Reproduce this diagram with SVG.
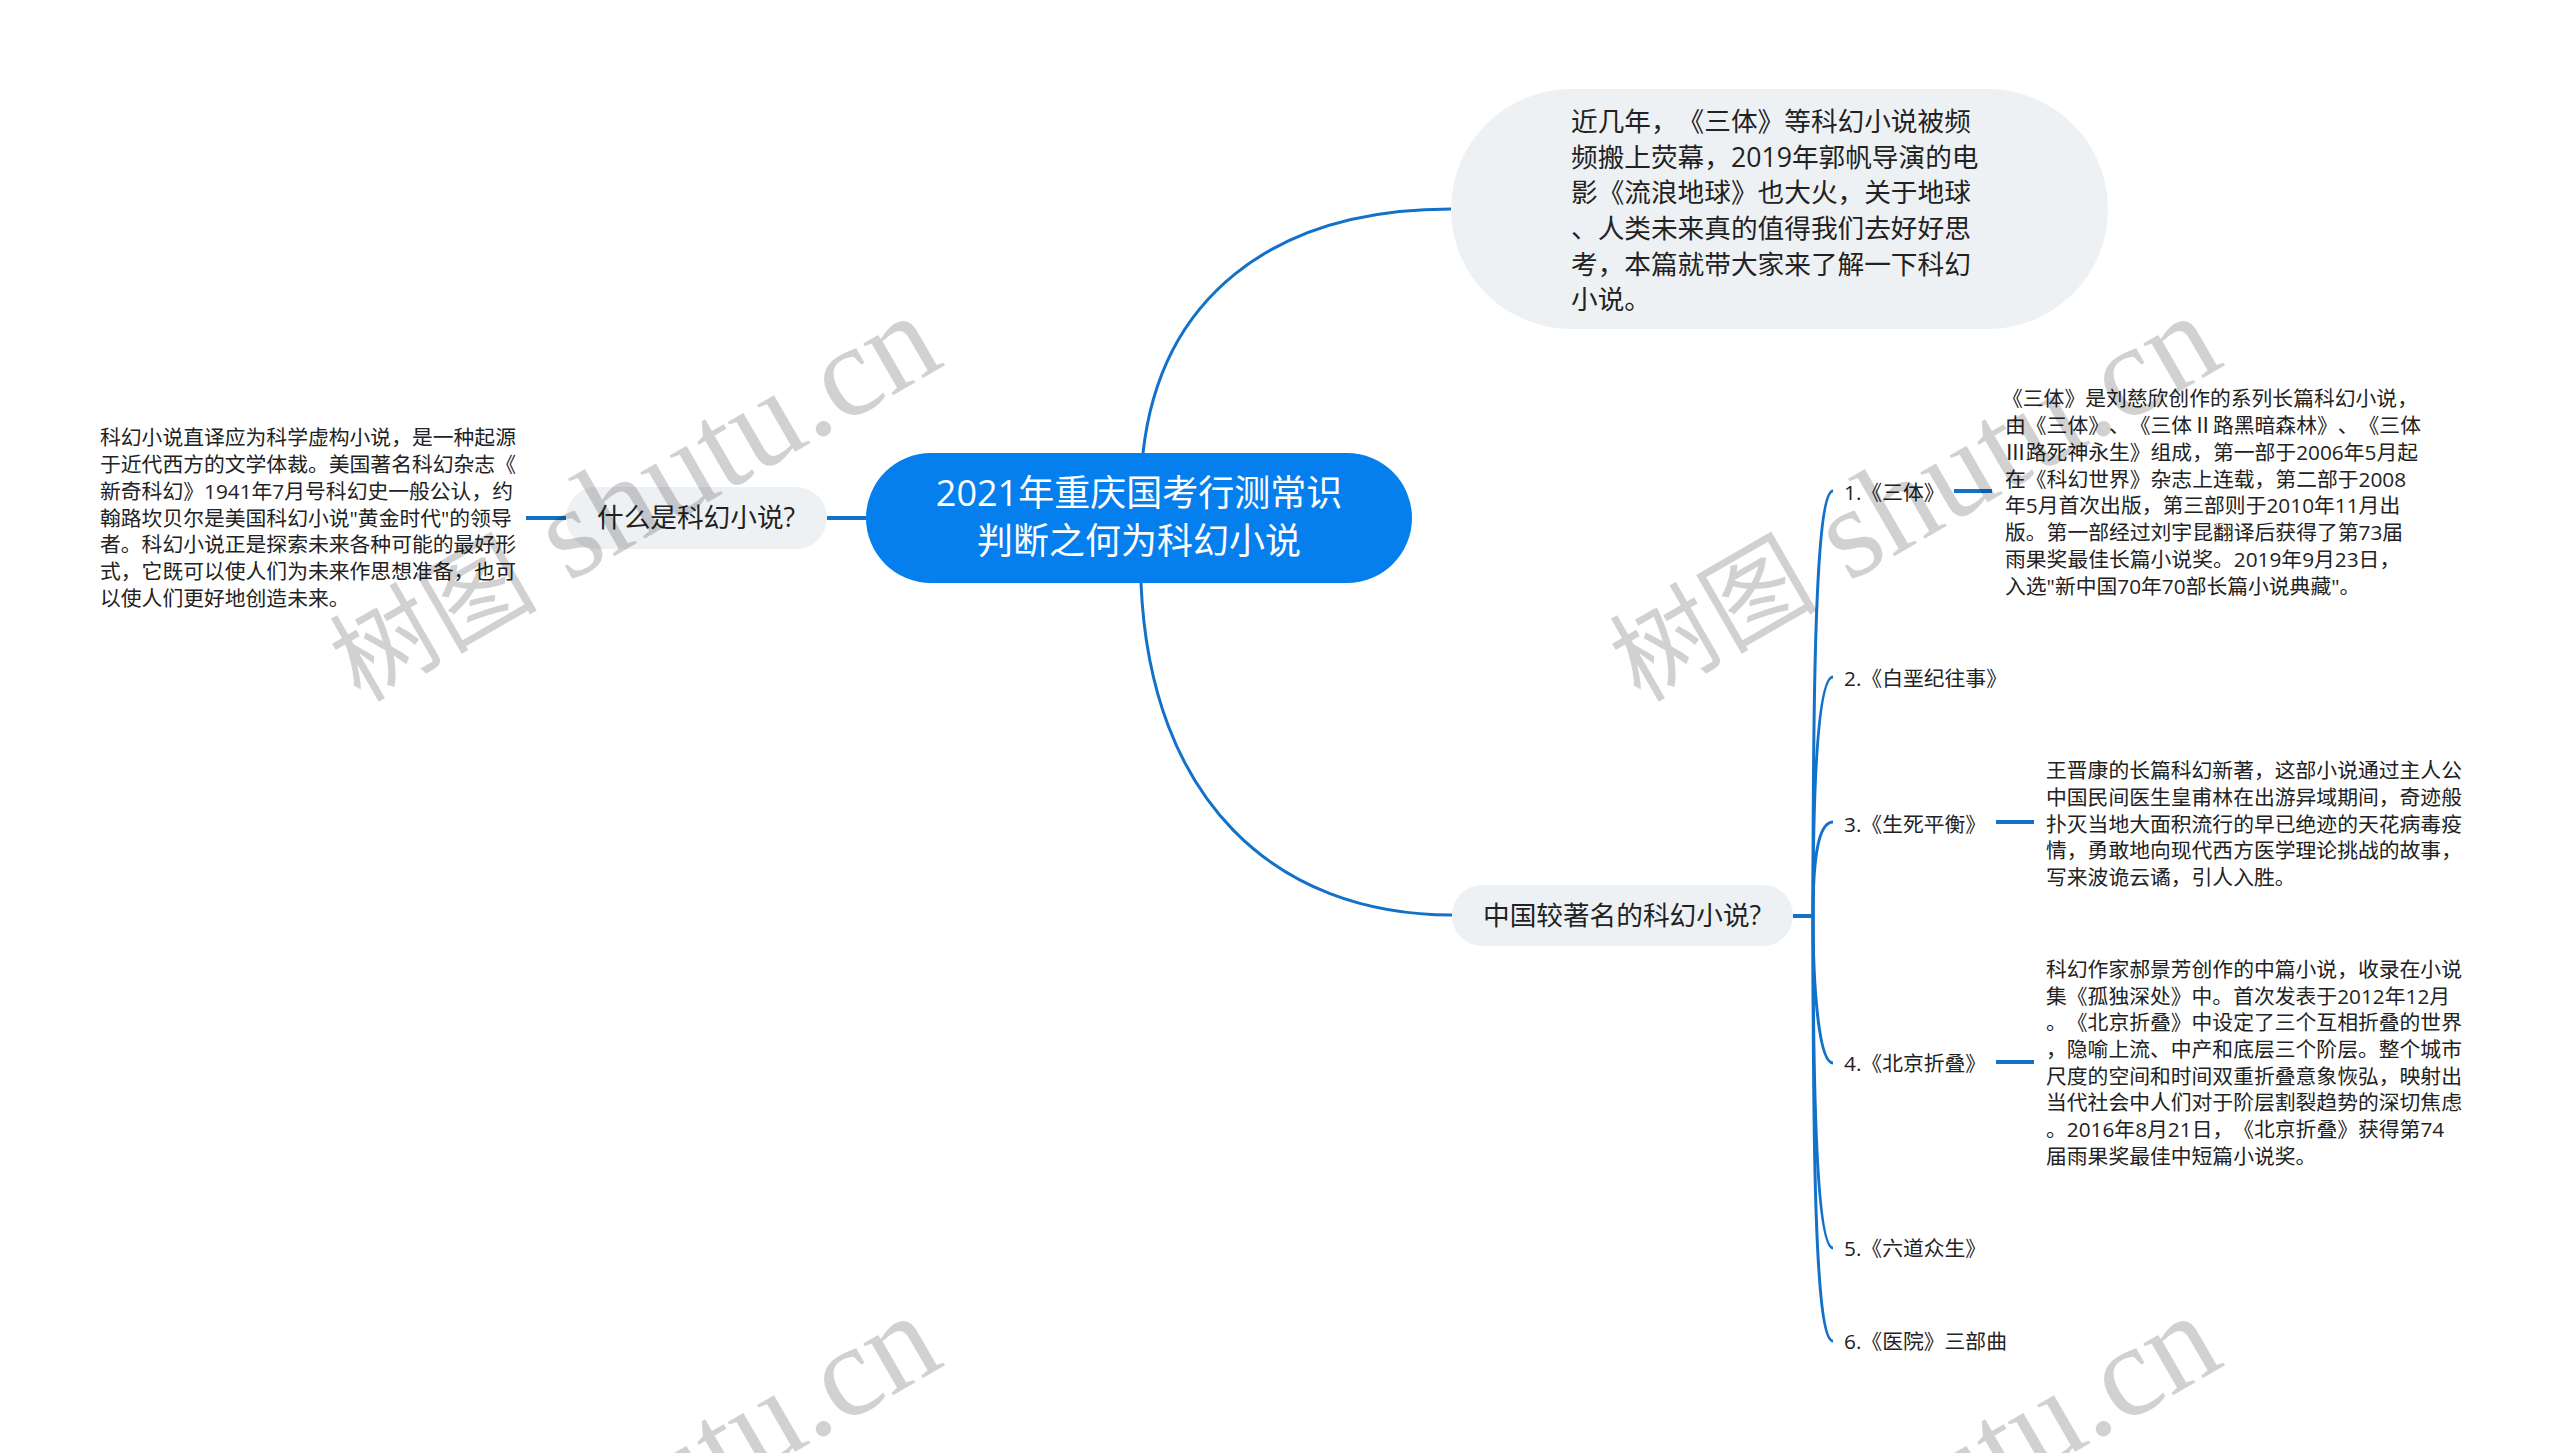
<svg xmlns="http://www.w3.org/2000/svg" width="2560" height="1453" viewBox="0 0 2560 1453">
<style>
text{font-family:"Open Sans","Noto Sans CJK SC",sans-serif;fill:#222;text-spacing-trim:space-all}
.t27{font-size:26.67px}
.t21{font-size:20.8px}
.title{font-size:36px;fill:#fff;text-anchor:middle}
.pill{fill:#eef1f4}
.link{fill:none;stroke:#1271c8;stroke-width:3}
.dash{fill:none;stroke:#1271c8;stroke-width:4}
.wm{font-family:"Liberation Serif","Noto Sans CJK SC",serif;font-size:130px;fill:#000;opacity:.175}
.wmc{font-size:104px}
</style>
<defs>
<text id="mark" class="wm" transform="translate(360 703) rotate(-30)"><tspan class="wmc">树图</tspan> shutu.cn</text>
</defs>
<rect width="2560" height="1453" fill="#fff"/>
<g id="connectors">
<path class="link" d="M1143 453C1160 300 1270 209 1451 209"/>
<path class="link" d="M1141 583C1150 800 1275 915 1452 915"/>
<path class="dash" d="M827 518H866"/>
<path class="dash" d="M526 518H566"/>
<path class="dash" d="M1793 916H1813"/>
<path class="link" d="M1813 916C1813 700 1815 491 1833 491"/>
<path class="link" d="M1813 916C1813 780 1818 677 1833 677"/>
<path class="link" d="M1813 916C1813 860 1818 822 1833 822"/>
<path class="link" d="M1813 916C1813 980 1818 1063 1833 1063"/>
<path class="link" d="M1813 916C1813 1080 1816 1248 1833 1248"/>
<path class="link" d="M1813 916C1813 1150 1815 1341 1833 1341"/>
<path class="dash" d="M1954 491H1992"/>
<path class="dash" d="M1996 822H2034"/>
<path class="dash" d="M1996 1062H2034"/>
</g>
<g id="root">
<rect x="866" y="453" width="546" height="130" rx="65" fill="#057eee"/>
<text class="title"><tspan x="1139" y="506">2021年重庆国考行测常识</tspan><tspan x="1139" y="554">判断之何为科幻小说</tspan></text>
</g>
<g id="intro">
<rect class="pill" x="1451" y="89" width="657" height="240" rx="120"/>
<text class="t27"><tspan x="1571" y="131">近几年，《三体》等科幻小说被频</tspan><tspan x="1571" y="166.6">频搬上荧幕，2019年郭帆导演的电</tspan><tspan x="1571" y="202">影《流浪地球》也大火，关于地球</tspan><tspan x="1571" y="238">、人类未来真的值得我们去好好思</tspan><tspan x="1571" y="273.5">考，本篇就带大家来了解一下科幻</tspan><tspan x="1571" y="309">小说。</tspan></text>
</g>
<g id="what">
<rect class="pill" x="566" y="487" width="261" height="62" rx="31"/>
<text class="t27" x="597" y="527">什么是科幻小说?</text>
</g>
<g id="what-detail">
<text class="t21"><tspan x="100" y="445">科幻小说直译应为科学虚构小说，是一种起源</tspan><tspan x="100" y="472">于近代西方的文学体裁。美国著名科幻杂志《</tspan><tspan x="100" y="499">新奇科幻》1941年7月号科幻史一般公认，约</tspan><tspan x="100" y="526">翰路坎贝尔是美国科幻小说"黄金时代"的领导</tspan><tspan x="100" y="552">者。科幻小说正是探索未来各种可能的最好形</tspan><tspan x="100" y="579">式，它既可以使人们为未来作思想准备，也可</tspan><tspan x="100" y="606">以使人们更好地创造未来。</tspan></text>
</g>
<g id="famous">
<rect class="pill" x="1452" y="885" width="341" height="61" rx="30"/>
<text class="t27" x="1483" y="925">中国较著名的科幻小说?</text>
</g>
<g id="item1">
<text class="t21" x="1844" y="500">1.《三体》</text>
<text class="t21"><tspan x="2002" y="406">《三体》是刘慈欣创作的系列长篇科幻小说，</tspan><tspan x="2005" y="433">由《三体》、《三体Ⅱ路黑暗森林》、《三体</tspan><tspan x="2005" y="460">Ⅲ路死神永生》组成，第一部于2006年5月起</tspan><tspan x="2005" y="487">在《科幻世界》杂志上连载，第二部于2008</tspan><tspan x="2005" y="513">年5月首次出版，第三部则于2010年11月出</tspan><tspan x="2005" y="540">版。第一部经过刘宇昆翻译后获得了第73届</tspan><tspan x="2005" y="567">雨果奖最佳长篇小说奖。2019年9月23日，</tspan><tspan x="2005" y="594">入选"新中国70年70部长篇小说典藏"。</tspan></text>
</g>
<g id="item2"><text class="t21" x="1844" y="686">2.《白垩纪往事》</text></g>
<g id="item3">
<text class="t21" x="1844" y="832">3.《生死平衡》</text>
<text class="t21"><tspan x="2046" y="778">王晋康的长篇科幻新著，这部小说通过主人公</tspan><tspan x="2046" y="805">中国民间医生皇甫林在出游异域期间，奇迹般</tspan><tspan x="2046" y="832">扑灭当地大面积流行的早已绝迹的天花病毒疫</tspan><tspan x="2046" y="858">情，勇敢地向现代西方医学理论挑战的故事，</tspan><tspan x="2046" y="885">写来波诡云谲，引人入胜。</tspan></text>
</g>
<g id="item4">
<text class="t21" x="1844" y="1071">4.《北京折叠》</text>
<text class="t21"><tspan x="2046" y="977">科幻作家郝景芳创作的中篇小说，收录在小说</tspan><tspan x="2046" y="1004">集《孤独深处》中。首次发表于2012年12月</tspan><tspan x="2046" y="1030">。《北京折叠》中设定了三个互相折叠的世界</tspan><tspan x="2046" y="1057">，隐喻上流、中产和底层三个阶层。整个城市</tspan><tspan x="2046" y="1084">尺度的空间和时间双重折叠意象恢弘，映射出</tspan><tspan x="2046" y="1110">当代社会中人们对于阶层割裂趋势的深切焦虑</tspan><tspan x="2046" y="1137">。2016年8月21日，《北京折叠》获得第74</tspan><tspan x="2046" y="1164">届雨果奖最佳中短篇小说奖。</tspan></text>
</g>
<g id="item5"><text class="t21" x="1844" y="1256">5.《六道众生》</text></g>
<g id="item6"><text class="t21" x="1844" y="1349">6.《医院》三部曲</text></g>
<g id="watermarks">
<use href="#mark"/>
<use href="#mark" x="1280"/>
<use href="#mark" y="1000"/>
<use href="#mark" x="1280" y="1000"/>
</g>
</svg>
